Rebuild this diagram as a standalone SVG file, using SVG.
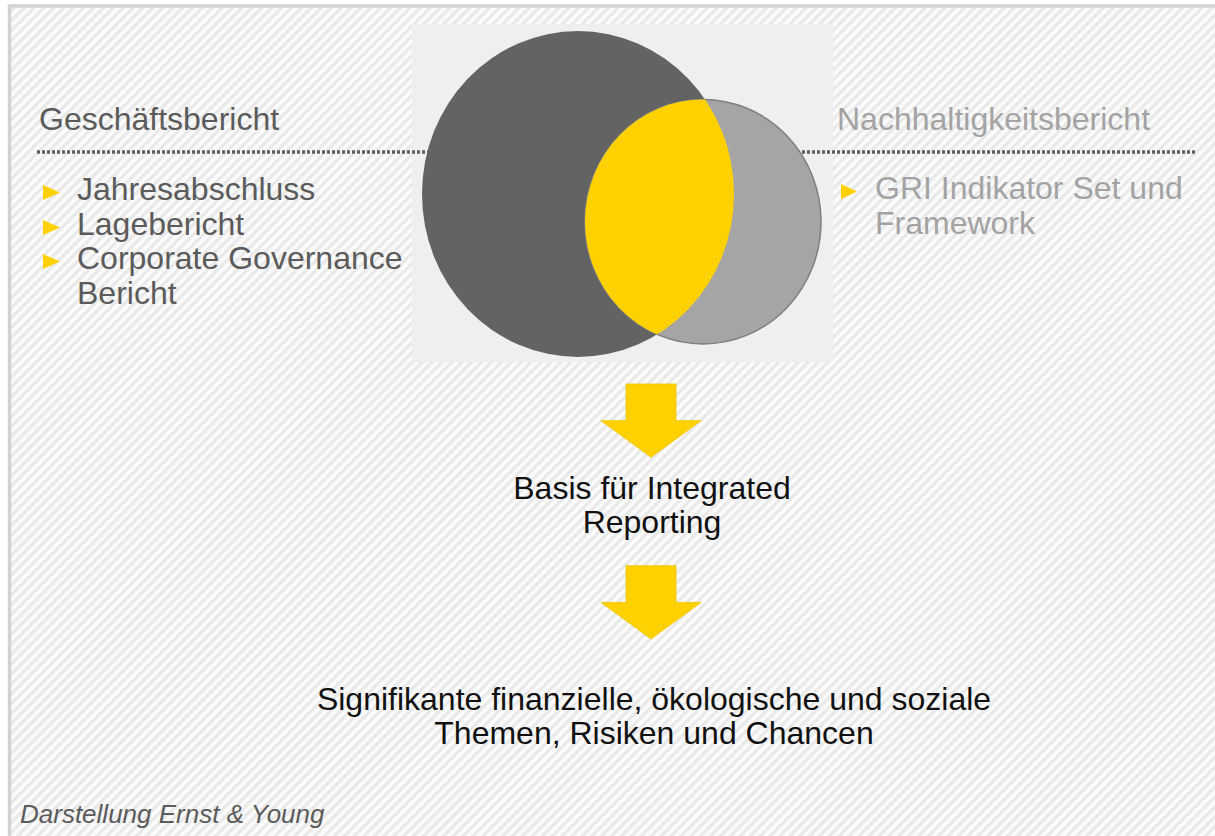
<svg xmlns="http://www.w3.org/2000/svg" width="1215" height="836" viewBox="0 0 1215 836">
  <style>
    text { font-family: "Liberation Sans", Arial, sans-serif; }
    .hd { font-size: 32px; }
    .dark { fill: #5b5b5b; }
    .light { fill: #a3a3a3; }
    .black { fill: #111111; font-size: 32px; }
    .bullet { fill: #FFD100; }
    .arrow { fill: #FFD100; stroke: #F2C500; stroke-width: 0.8; }
  </style>
  <defs>
    <pattern id="stripes" width="7" height="7" patternUnits="userSpaceOnUse" patternTransform="rotate(45)">
      <rect width="7" height="7" fill="#fbfbfb"/>
      <rect width="3.2" height="7" fill="#e9e9e9"/>
    </pattern>
    <clipPath id="smallClip">
      <ellipse cx="703" cy="221.7" rx="118" ry="122.3"/>
    </clipPath>
  </defs>

  <rect x="0" y="0" width="1215" height="836" fill="#ffffff"/>
  <rect x="11" y="8" width="1210" height="840" fill="url(#stripes)"/>
  <path d="M9.5 840 V6 H1220" fill="none" stroke="#d2d2d2" stroke-width="3.5"/>

  <g id="venn-panel">
    <rect x="412" y="24" width="421" height="338" fill="#efefef"/>
  </g>

  <g id="divider">
    <line x1="37" y1="152" x2="1197" y2="152" stroke="#5f5f5f" stroke-width="3.5" stroke-dasharray="3 2"/>
  </g>

  <g id="venn">
    <ellipse id="circle-geschaeftsbericht" cx="578" cy="194" rx="156" ry="163" fill="#636363"/>
    <ellipse id="circle-nachhaltigkeitsbericht" cx="703" cy="221.7" rx="118" ry="122.3" fill="#a5a5a5" stroke="#7f7f7f" stroke-width="1.5"/>
    <ellipse id="overlap" cx="578" cy="194" rx="156" ry="163" fill="#FFD100" clip-path="url(#smallClip)"/>
  </g>

  <g id="geschaeftsbericht">
    <text class="hd dark" x="39" y="130">Geschäftsbericht</text>
    <polygon class="bullet" points="43,185 60,192.5 43,200"/>
    <text class="hd dark" x="77" y="200">Jahresabschluss</text>
    <polygon class="bullet" points="43,220 60,227.5 43,235"/>
    <text class="hd dark" x="77" y="235">Lagebericht</text>
    <polygon class="bullet" points="43,254 60,261.5 43,269"/>
    <text class="hd dark" x="77" y="269">Corporate Governance</text>
    <text class="hd dark" x="77" y="304">Bericht</text>
  </g>

  <g id="nachhaltigkeitsbericht">
    <text class="hd light" x="837" y="130">Nachhaltigkeitsbericht</text>
    <polygon class="bullet" points="841,184 857,191.5 841,199"/>
    <text class="hd light" x="875" y="199">GRI Indikator Set und</text>
    <text class="hd light" x="875" y="234">Framework</text>
  </g>

  <g id="connectors">
    <polygon class="arrow" points="626,384 676,384 676,420.7 701,420.7 651,457.3 601,420.7 626,420.7"/>
    <polygon class="arrow" points="626,565.7 676,565.7 676,602.4 701,602.4 651,639 601,602.4 626,602.4"/>
  </g>

  <g id="basis">
    <text class="black" x="652" y="499" text-anchor="middle">Basis für Integrated</text>
    <text class="black" x="652" y="533" text-anchor="middle">Reporting</text>
  </g>

  <g id="themen">
    <text class="black" x="654" y="710" text-anchor="middle">Signifikante finanzielle, ökologische und soziale</text>
    <text class="black" x="654" y="744" text-anchor="middle">Themen, Risiken und Chancen</text>
  </g>

  <g id="source">
    <text x="20" y="823" font-size="26" font-style="italic" fill="#5b5b5b">Darstellung Ernst &amp; Young</text>
  </g>
</svg>
